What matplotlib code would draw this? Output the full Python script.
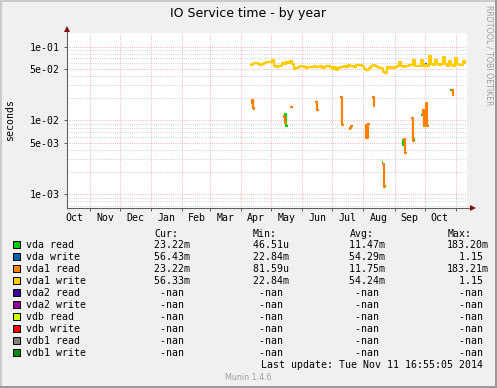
import matplotlib
matplotlib.use('Agg')
import matplotlib.pyplot as plt
import matplotlib.dates as mdates
from matplotlib.patches import Rectangle
from matplotlib.lines import Line2D
from matplotlib.ticker import FixedLocator, FuncFormatter, NullFormatter
import numpy as np
from datetime import datetime, timedelta

W, H = 497, 388
MONO = 'DejaVu Sans Mono'

# ---------------- data ----------------
title = "IO Service time - by year"
ylabel = "seconds"

labels = ["vda read", "vda write", "vda1 read", "vda1 write", "vda2 read",
          "vda2 write", "vdb read", "vdb write", "vdb1 read", "vdb1 write"]
colors = ["#00CC00", "#0066B3", "#FF8000", "#FFCC00", "#330099",
          "#990099", "#CCFF00", "#FF0000", "#808080", "#008F00"]
cur_vals = ["23.22m", "56.43m", "23.22m", "56.33m", "-nan", "-nan", "-nan", "-nan", "-nan", "-nan"]
min_vals = ["46.51u", "22.84m", "81.59u", "22.84m", "-nan", "-nan", "-nan", "-nan", "-nan", "-nan"]
avg_vals = ["11.47m", "54.29m", "11.75m", "54.24m", "-nan", "-nan", "-nan", "-nan", "-nan", "-nan"]
max_vals = ["183.20m", "1.15", "183.21m", "1.15", "-nan", "-nan", "-nan", "-nan", "-nan", "-nan"]

# vda1 write: one value every 2 days starting 2014-04-10
vda1_write_start = "2014-04-10"
vda1_write = [0.0565, 0.0583, 0.0601, 0.0601, 0.0583, 0.0565, 0.0583, 0.0601, 0.0621, 0.0621,
              0.0621, 0.0660, 0.0548, 0.0531, 0.0548, 0.0548, 0.0601, 0.0583, 0.0621, 0.0601,
              0.0640, 0.0583, 0.0499, 0.0514, 0.0531, 0.0548, 0.0548, 0.0531, 0.0514, 0.0531,
              0.0531, 0.0531, 0.0548, 0.0531, 0.0531, 0.0548, 0.0514, 0.0531, 0.0548, 0.0548,
              0.0531, 0.0499, 0.0531, 0.0483, 0.0514, 0.0531, 0.0531, 0.0548, 0.0531, 0.0565,
              0.0548, 0.0548, 0.0531, 0.0565, 0.0565, 0.0565, 0.0548, 0.0499, 0.0483, 0.0514,
              0.0548, 0.0565, 0.0548, 0.0531, 0.0514, 0.0514, 0.0454, 0.0440, 0.0531, 0.0514,
              0.0531, 0.0514, 0.0531, 0.0548, 0.0621, 0.0548, 0.0531, 0.0548, 0.0548, 0.0565,
              0.0565, 0.0660, 0.0548, 0.0548, 0.0548, 0.0660, 0.0548, 0.0565, 0.0548, 0.0748,
              0.0583, 0.0565, 0.0660, 0.0583, 0.0565, 0.0583, 0.0724, 0.0583, 0.0548, 0.0640,
              0.0565, 0.0548, 0.0703, 0.0583, 0.0565, 0.0565, 0.0640, 0.0583]

# sparse series: daily samples, None = gap
vda1_read = [
    ("2014-04-11", 0.0175), ("2014-04-12", 0.019), ("2014-04-13", 0.0148), ("2014-04-14", 0.0143), None,
    ("2014-05-13", 0.0115), ("2014-05-14", 0.0112), ("2014-05-15", 0.0093), ("2014-05-16", 0.0093), None,
    ("2014-05-20", 0.015), ("2014-05-22", 0.015), None,
    ("2014-06-14", 0.018), ("2014-06-15", 0.018), ("2014-06-16", 0.0139), ("2014-06-17", 0.014), None,
    ("2014-07-09", 0.021), ("2014-07-10", 0.021), ("2014-07-11", 0.0087), ("2014-07-12", 0.0087), None,
    ("2014-07-18", 0.0077), ("2014-07-19", 0.0078), ("2014-07-20", 0.0084), ("2014-07-21", 0.0085), None,
    ("2014-08-03", 0.0088), ("2014-08-04", 0.0058), ("2014-08-05", 0.0090), ("2014-08-06", 0.0092), None,
    ("2014-08-09", 0.021), ("2014-08-10", 0.021), ("2014-08-11", 0.0157), ("2014-08-12", 0.0157), None,
    ("2014-08-19", 0.0026), ("2014-08-20", 0.0026), ("2014-08-21", 0.00126), ("2014-08-22", 0.00128), None,
    ("2014-09-09", 0.0055), ("2014-09-10", 0.0056), ("2014-09-11", 0.0036), ("2014-09-12", 0.0037), None,
    ("2014-09-17", 0.0107), ("2014-09-18", 0.0107), ("2014-09-19", 0.0053), ("2014-09-20", 0.0054), None,
    ("2014-09-28", 0.0119), ("2014-09-29", 0.0139), ("2014-09-30", 0.0084), ("2014-10-01", 0.0139),
    ("2014-10-02", 0.0174), ("2014-10-03", 0.0084), ("2014-10-04", 0.0086), None,
    ("2014-10-27", 0.0259), ("2014-10-28", 0.0259), ("2014-10-29", 0.0221), ("2014-10-30", 0.0221),
]
vda_read = [
    ("2014-05-14", 0.0122), ("2014-05-15", 0.0122), ("2014-05-16", 0.0084), ("2014-05-17", 0.0084), None,
    ("2014-08-19", 0.0027), ("2014-08-20", 0.0027), None,
    ("2014-08-21", 0.0013), ("2014-08-23", 0.0013), None,
    ("2014-09-08", 0.0046), ("2014-09-09", 0.0054), ("2014-09-10", 0.0056), None,
    ("2014-09-20", 0.0056), ("2014-09-21", 0.0056), None,
    ("2014-09-27", 0.0117), ("2014-09-28", 0.0120), None,
    ("2014-10-26", 0.0255), ("2014-10-27", 0.0255),
]
vda_write = [("2014-10-01", 0.0585), ("2014-10-03", 0.0585)]

x_start = datetime(2013, 10, 9, 0, 0)
x_end = datetime(2014, 11, 12, 8, 0)
y_min, y_max = 6.52e-4, 0.1533
y_major = [1e-3, 5e-3, 1e-2, 5e-2, 1e-1]
y_minor = [7e-4, 8e-4, 9e-4, 2e-3, 3e-3, 4e-3, 6e-3, 7e-3, 8e-3, 9e-3,
           2e-2, 3e-2, 4e-2, 6e-2, 7e-2, 8e-2, 9e-2]
last_update = "Tue Nov 11 16:55:05 2014"
version = "Munin 1.4.6"
credit = "RRDTOOL / TOBI OETIKER"


def sparse(series):
    xs, ys = [], []
    for item in series:
        if item is None:
            xs.append(xs[-1] + timedelta(hours=12))
            ys.append(np.nan)
        else:
            xs.append(datetime.strptime(item[0], "%Y-%m-%d"))
            ys.append(item[1])
    return xs, ys


def fx(x):
    return x / W


def fy(y):
    return 1 - y / H


fig = plt.figure(figsize=(W / 100, H / 100), dpi=100)
fig.patch.set_facecolor('#F0F0F0')

# frame shading
fig.add_artist(Rectangle((0, fy(2)), 1, 2 / H, transform=fig.transFigure, color='#CBCBCB', lw=0))
fig.add_artist(Rectangle((0, 0), 2 / W, 1, transform=fig.transFigure, color='#CBCBCB', lw=0))
fig.add_artist(Rectangle((0, 0), 1, 2 / H, transform=fig.transFigure, color='#999999', lw=0))
fig.add_artist(Rectangle((1 - 2 / W, 0), 2 / W, 1, transform=fig.transFigure, color='#999999', lw=0))

L, R, T, B = 67, 467, 33, 208
ax = fig.add_axes([fx(L), fy(B), (R - L) / W, (B - T) / H])
ax.set_facecolor('white')
ax.set_yscale('log')
ax.set_xlim(x_start, x_end)
ax.set_ylim(y_min, y_max)

for s in ax.spines.values():
    s.set_visible(False)

# grid
ax.xaxis.set_major_locator(mdates.MonthLocator())
ax.xaxis.set_major_formatter(NullFormatter())
ax.xaxis.set_minor_locator(mdates.MonthLocator(bymonthday=16))
ax.xaxis.set_minor_formatter(mdates.DateFormatter('%b'))
ax.yaxis.set_major_locator(FixedLocator(y_major))
ax.yaxis.set_minor_locator(FixedLocator(y_minor))
ax.yaxis.set_major_formatter(FuncFormatter(lambda v, p: f"{v:.0e}"))
ax.yaxis.set_minor_formatter(NullFormatter())

dot = (0, (0.72, 1.44))
ax.grid(which='major', axis='both', color='#F2A0A0', linestyle=dot, linewidth=0.72)
ax.grid(which='minor', axis='y', color='#C4C4C4', linestyle=dot, linewidth=0.72)
ax.set_axisbelow(True)

ax.tick_params(axis='x', which='major', length=2, width=0.72, color='#606060', direction='out')
ax.tick_params(axis='x', which='minor', length=0, pad=3.6, labelsize=7.1)
ax.tick_params(axis='y', which='major', length=2.5, width=0.72, color='#606060', direction='out',
               pad=3.0, labelsize=7.1)
ax.tick_params(axis='y', which='minor', length=0)
for lab in ax.get_xticklabels(minor=True) + ax.get_yticklabels():
    lab.set_fontfamily(MONO)

# data
lw = 1.6
gx, gy = sparse(vda_read)
ax.plot(gx, gy, color=colors[0], lw=lw, drawstyle='steps-post', solid_capstyle='butt')
bx, by = sparse(vda_write)
ax.plot(bx, by, color=colors[1], lw=lw, drawstyle='steps-post', solid_capstyle='butt')
ox, oy = sparse(vda1_read)
ax.plot(ox, oy, color=colors[2], lw=lw, drawstyle='steps-post', solid_capstyle='butt')
s0 = datetime.strptime(vda1_write_start, "%Y-%m-%d")
yx = [s0 + timedelta(days=2 * i) for i in range(len(vda1_write))]
ax.plot(yx, vda1_write, color=colors[3], lw=lw, drawstyle='steps-post', solid_capstyle='butt')

# axis lines with arrows
axc = '#606060'
ax.add_line(Line2D([0, 0], [0, 1 + 3 / 175], transform=ax.transAxes, color=axc, lw=0.8, clip_on=False))
ax.add_line(Line2D([0, 1 + 4 / 400], [0, 0], transform=ax.transAxes, color=axc, lw=0.8, clip_on=False))
ax.plot([0], [1 + 4 / 175], marker='^', ms=4.5, color='#801010', transform=ax.transAxes, clip_on=False, mew=0)
ax.plot([1 + 6 / 400], [0], marker='>', ms=4.5, color='#801010', transform=ax.transAxes, clip_on=False, mew=0)

# texts
fig.text(0.5, fy(14), title, ha='center', va='center', fontsize=9, family='DejaVu Sans')
fig.text(fx(10), fy(120), ylabel, ha='center', va='center', rotation=90, fontsize=7.1, family=MONO)
fig.text(fx(489), fy(5), credit, ha='center', va='top', rotation=270, fontsize=5.7,
         family='DejaVu Sans', color='#A0A0A0')

# legend
hdr_y = 233.3
for name, xx in [("Cur:", 155), ("Min:", 253), ("Avg:", 350), ("Max:", 448)]:
    fig.text(fx(xx - 0.5), fy(hdr_y + 3.5), name, ha='left', va='baseline', fontsize=7.1, family=MONO)


def fmt(v):
    if v[-1] in "mu":
        num, unit = v[:-1], v[-1]
    else:
        num, unit = v, " "
    return f"{num:>6}{unit}"


col_x = [148, 247, 343, 447]
for i, lab in enumerate(labels):
    yc = 244.5 + 12.05 * i
    fig.add_artist(Rectangle((fx(13), fy(yc + 3.5)), 7 / W, 7 / H, transform=fig.transFigure,
                             facecolor=colors[i], edgecolor='black', lw=0.72))
    fig.text(fx(26.5), fy(yc + 3.5), lab, ha='left', va='baseline', fontsize=7.1, family=MONO)
    for cx, vals in zip(col_x, [cur_vals, min_vals, avg_vals, max_vals]):
        fig.text(fx(cx), fy(yc + 3.5), fmt(vals[i]), ha='left', va='baseline', fontsize=7.1, family=MONO)

fig.text(fx(261), fy(364 + 3.5), "Last update:", ha='left', va='baseline', fontsize=7.1, family=MONO)
fig.text(fx(483), fy(364 + 3.5), last_update, ha='right', va='baseline', fontsize=7.1, family=MONO)
fig.text(fx(248), fy(377.3), version, ha='center', va='center', fontsize=5.8,
         family='DejaVu Sans', color='#A0A0A0')

fig.savefig('out.png', dpi=100, facecolor=fig.get_facecolor())
